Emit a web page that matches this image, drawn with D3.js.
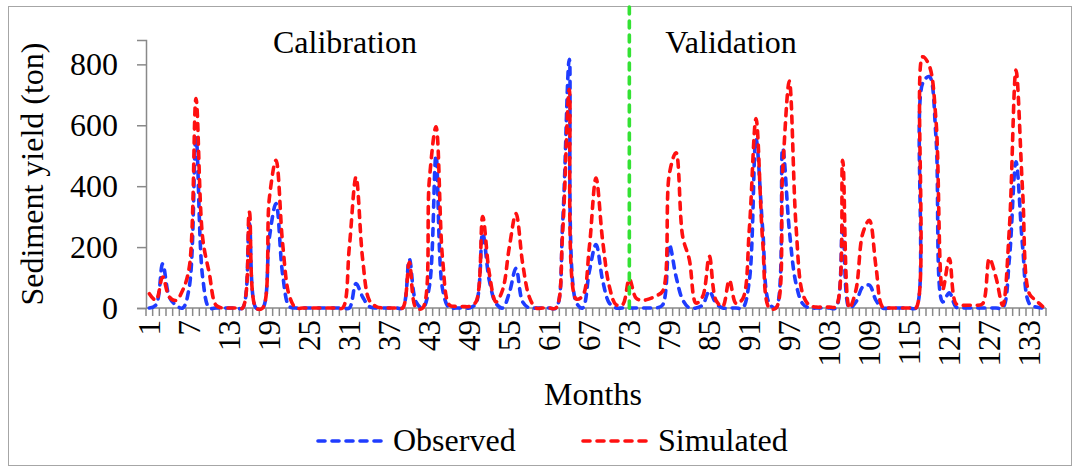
<!DOCTYPE html>
<html>
<head>
<meta charset="utf-8">
<script src="https://cdn.jsdelivr.net/npm/d3@7"></script>
<style>
  html, body { margin: 0; padding: 0; background: #fff; }
  svg { display: block; }
</style>
</head>
<body>
<svg id="chart" width="1078" height="470"></svg>
<script>
// Monthly sediment yield (ton), months 1..135
const months = d3.range(1, 136);

const observed = [
  0, 10, 145, 36, 9, 0, 70, 560, 100, 0,
  0, 0, 0, 0, 0, 277, 0, 0, 230, 343,
  110, 5, 0, 0, 0, 0, 0, 0, 0, 0,
  0, 80, 36, 5, 0, 0, 0, 0, 0, 160,
  20, 0, 70, 500, 60, 0, 0, 0, 0, 15,
  245, 90, 15, 0, 50, 130, 20, 0, 0, 0,
  0, 0, 280, 817, 20, 0, 120, 208, 90, 16,
  0, 0, 0, 0, 0, 0, 0, 10, 208, 104,
  27, 0, 0, 10, 55, 15, 0, 0, 0, 0,
  90, 555, 260, 15, 0, 525, 255, 80, 14, 0,
  0, 0, 0, 0, 277, 0, 20, 69, 75, 25,
  0, 0, 0, 0, 0, 0, 738, 760, 560, 20,
  50, 3, 0, 0, 0, 0, 0, 0, 0, 160,
  480, 200, 14, 3, 0
];

const simulated = [
  47, 25, 102, 36, 25, 58, 135, 688, 230, 113,
  9, 0, 0, 0, 0, 315, 0, 0, 360, 485,
  210, 40, 0, 0, 0, 0, 0, 0, 0, 0,
  200, 430, 160, 25, 5, 0, 0, 0, 0, 150,
  0, 0, 420, 595, 157, 10, 5, 5, 5, 20,
  300, 113, 20, 60, 200, 310, 146, 36, 0, 0,
  0, 0, 250, 718, 30, 40, 200, 427, 220, 71,
  11, 11, 95, 33, 25, 30, 40, 55, 440, 510,
  235, 159, 16, 38, 170, 25, 5, 91, 15, 30,
  260, 622, 220, 0, 0, 450, 745, 270, 47, 9,
  3, 3, 3, 5, 485, 0, 60, 244, 288, 135,
  3, 0, 0, 0, 0, 0, 825, 795, 616, 60,
  162, 14, 9, 9, 9, 14, 162, 100, 9, 260,
  781, 380, 47, 25, 5
];

const monthTicks = [1, 7, 13, 19, 25, 31, 37, 43, 49, 55, 61, 67, 73, 79, 85, 91, 97, 103, 109, 115, 121, 127, 133];
const yTicks = [0, 200, 400, 600, 800];
const splitMonth = 73;   // calibration / validation boundary

const FONT = '"Liberation Serif", "Times New Roman", Tinos, serif';
const svg = d3.select("#chart");
const axisGrey = "#898989";
const blue = "#1f3cff";
const red = "#ff1010";
const green = "#33e233";

// outer frame
svg.append("rect")
  .attr("x", 8.5).attr("y", 6.5).attr("width", 1063).attr("height", 459)
  .attr("fill", "none").attr("stroke", "#a6a6a6").attr("stroke-width", 1);

const plot = { left: 146, right: 1046, top: 40, bottom: 308 };

const x = d3.scaleBand().domain(months).range([plot.left, plot.right]).padding(0);
const xc = m => x(m) + x.bandwidth() / 2;
const y = d3.scaleLinear().domain([0, 880]).range([plot.bottom, plot.top]);

// y axis
const yAxis = svg.append("g").attr("transform", `translate(${plot.left},0)`)
  .call(d3.axisLeft(y).tickValues(yTicks).tickSize(9).tickPadding(19));
yAxis.select(".domain").attr("stroke", axisGrey).attr("stroke-width", 1.5);
yAxis.selectAll(".tick line").attr("stroke", axisGrey).attr("stroke-width", 1.5);
yAxis.selectAll(".tick text")
  .style("font-family", FONT).style("font-size", "32px").attr("fill", "#000");

// x axis: category boundaries as tick marks, every sixth month labelled
const xg = svg.append("g");
xg.selectAll("line.cat")
  .data(d3.range(0, months.length + 1))
  .join("line")
  .attr("x1", i => plot.left + i * x.step()).attr("x2", i => plot.left + i * x.step())
  .attr("y1", plot.bottom).attr("y2", plot.bottom + 8)
  .attr("stroke", axisGrey).attr("stroke-width", 1.5);
xg.append("line")
  .attr("x1", plot.left).attr("x2", plot.right)
  .attr("y1", plot.bottom).attr("y2", plot.bottom)
  .attr("stroke", axisGrey).attr("stroke-width", 1.5);
xg.selectAll("text.lbl")
  .data(monthTicks)
  .join("text")
  .attr("transform", m => `translate(${xc(m)},${plot.bottom + 12}) rotate(-90)`)
  .attr("text-anchor", "end")
  .attr("dy", "0.35em")
  .style("font-family", FONT).style("font-size", "31px")
  .text(m => m);

// series
const line = data => d3.line()
  .x((d, i) => xc(months[i]))
  .y(d => y(d))
  .curve(d3.curveCatmullRom.alpha(0.5))(data);

svg.append("path")
  .attr("d", line(observed))
  .attr("fill", "none").attr("stroke", blue).attr("stroke-width", 3.6)
  .attr("stroke-dasharray", "7,7").attr("stroke-linecap", "round").attr("stroke-linejoin", "round");

svg.append("path")
  .attr("d", line(simulated))
  .attr("fill", "none").attr("stroke", red).attr("stroke-width", 3.6)
  .attr("stroke-dasharray", "7,7").attr("stroke-linecap", "round").attr("stroke-linejoin", "round");

// calibration / validation divider
svg.append("line")
  .attr("x1", xc(splitMonth)).attr("x2", xc(splitMonth))
  .attr("y1", 7).attr("y2", plot.bottom)
  .attr("stroke", green).attr("stroke-width", 3.6)
  .attr("stroke-dasharray", "7,7").attr("stroke-linecap", "round");

// text helper
const label = (xp, yp, txt, anchor = "middle") =>
  svg.append("text").attr("x", xp).attr("y", yp).attr("text-anchor", anchor)
    .style("font-family", FONT).style("font-size", "32px").attr("fill", "#000").text(txt);

// period annotations
label(345, 53, "Calibration");
label(731, 53, "Validation");

// axis titles
label(593, 405, "Months");
svg.append("text")
  .attr("transform", "translate(43,174) rotate(-90)")
  .attr("text-anchor", "middle")
  .style("font-family", FONT).style("font-size", "32px").attr("fill", "#000")
  .text("Sediment yield (ton)");

// legend
const legend = [
  { name: "Observed", color: blue, x: 318 },
  { name: "Simulated", color: red, x: 583 }
];
legend.forEach(l => {
  svg.append("line")
    .attr("x1", l.x).attr("x2", l.x + 66).attr("y1", 441).attr("y2", 441)
    .attr("stroke", l.color).attr("stroke-width", 3.6)
    .attr("stroke-dasharray", "7,7").attr("stroke-linecap", "round");
  label(l.x + 75, 451, l.name, "start");
});
</script>
</body>
</html>
